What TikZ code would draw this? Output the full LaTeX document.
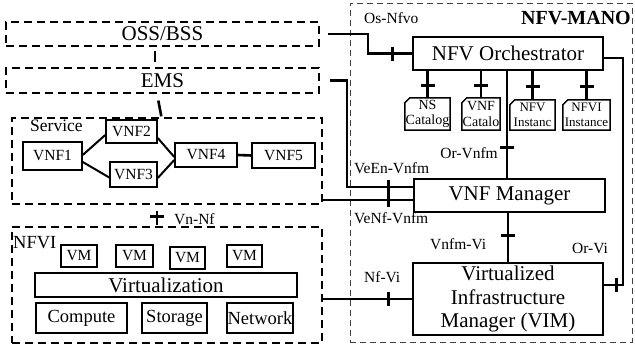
\documentclass[tikz,border=0pt]{standalone}
\usepackage{fontspec}
\setmainfont{Liberation Serif}
\newcommand\catout[1]{\draw[catline] (#1.south west) -- ([yshift=-5pt]#1.north west) -- ([xshift=5pt]#1.north west) -- (#1.north east) -- (#1.south east) -- cycle;}
\begin{document}
\begin{tikzpicture}[x=1pt,y=-1pt,
  dbox/.style={draw, dash pattern=on 8pt off 5pt, line width=1.4pt, inner sep=0pt},
  mbox/.style={draw=black!75, dash pattern=on 6pt off 4pt, line width=1pt, inner sep=0pt},
  sbox/.style={draw, fill=white, line width=1.5pt, inner sep=0pt},
  big/.style={font=\fontsize{21}{23.5}\selectfont},
  mid/.style={font=\fontsize{18.5}{20}\selectfont},
  small/.style={font=\fontsize{15.5}{17}\selectfont},
  lbl/.style={font=\fontsize{15.5}{17}\selectfont, inner sep=0pt},
  cat/.style={inner sep=0pt, align=center, font=\fontsize{14}{15.5}\selectfont},
  catline/.style={line width=1.5pt},
  conn/.style={line width=2.6pt},
  vl/.style={line width=2pt},
  tick/.style={fill, draw=none, inner sep=0pt, minimum width=3pt, minimum height=14pt, sloped}
]
\useasboundingbox (0,0) rectangle (635,348);

% left stack
\node[dbox, minimum width=313pt, minimum height=24pt, big] (oss) at (162.5,34) {OSS/BSS};
\node[dbox, minimum width=313pt, minimum height=25pt, big] (ems) at (162.5,80.5) {EMS};
\node[dbox, minimum width=310pt, minimum height=86pt] (svc) at (167,161) {};
\node[dbox, minimum width=310pt, minimum height=116pt] (nfvi) at (167,285) {};
\node[font=\fontsize{17.5}{19}\selectfont, inner sep=0pt, anchor=base west] (svclbl) at (30,131) {Service};
\node[font=\fontsize{18.5}{20}\selectfont, inner sep=0pt, anchor=base west] (nfvilbl) at (13,248) {NFVI};

% service chain
\node[sbox, small, minimum width=59pt, minimum height=28pt] (vnf1) at (52.5,156) {VNF1};
\node[sbox, small, minimum width=51pt, minimum height=23pt] (vnf2) at (131.5,131.5) {VNF2};
\node[sbox, small, minimum width=47pt, minimum height=25pt] (vnf3) at (133.5,174.5) {VNF3};
\node[sbox, small, minimum width=62pt, minimum height=24pt] (vnf4) at (206,155) {VNF4};
\node[sbox, small, minimum width=63pt, minimum height=25pt] (vnf5) at (283.5,155.5) {VNF5};
\draw[vl] ([yshift=1pt]vnf1.east) -- ([yshift=-3.5pt]vnf2.west);
\draw[vl] ([yshift=-6pt]vnf1.east) -- ([yshift=-3pt]vnf3.west);
\draw[vl] ([yshift=-6.5pt]vnf2.east) -- ([yshift=-2pt]vnf4.west);
\draw[vl] ([yshift=-3.5pt]vnf3.east) -- ([yshift=-5pt]vnf4.west);
\draw[conn] (vnf4.east) -- (vnf5.west);

% NFVI content
\node[sbox, small, minimum width=36pt, minimum height=22pt] (vm1) at (79,256) {VM};
\node[sbox, small, minimum width=37pt, minimum height=22pt] (vm2) at (134.5,256) {VM};
\node[sbox, small, minimum width=35pt, minimum height=22pt] (vm3) at (187.5,258) {VM};
\node[sbox, small, minimum width=35pt, minimum height=22pt] (vm4) at (244.5,256) {VM};
\node[sbox, big, minimum width=262pt, minimum height=24pt] (virt) at (166,285) {Virtualization};
\node[sbox, mid, minimum width=91pt, minimum height=30pt] (comp) at (81.5,318) {Compute};
\node[sbox, mid, minimum width=65pt, minimum height=30pt] (stor) at (174.5,318) {Storage};
\node[sbox, mid, minimum width=66pt, minimum height=30pt] (netw) at (260,318) {Network};

% left vertical links
\draw[conn, shorten <=4pt, shorten >=5pt] ([xshift=-7.5pt]oss.south) -- ([xshift=-7.5pt]ems.north);
\draw[conn, shorten <=7pt, shorten >=1pt] ([xshift=-5.5pt]ems.south) -- ([xshift=-5.5pt]svc.north);
\draw[conn, shorten <=6pt, shorten >=1pt] ([xshift=-10pt]svc.south) -- node[tick, pos=0.55]{} ([xshift=-10pt]nfvi.north);
\node[lbl, anchor=west] (vnnf) at (174,219) {Vn-Nf};

% MANO
\node[mbox, minimum width=282pt, minimum height=339pt] (mano) at (491,172.5) {};
\node[font=\bfseries\fontsize{20}{22}\selectfont, inner sep=0pt, anchor=east] (manolbl) at (631,18) {NFV-MANO};
\node[sbox, big, minimum width=190pt, minimum height=33pt] (orch) at (508,53.5) {NFV Orchestrator};
\node[sbox, big, minimum width=191pt, minimum height=33pt] (vnfm) at (509.5,195.5) {VNF Manager};
\node[sbox, big, align=center, minimum width=190pt, minimum height=72pt] (vim) at (508,299) {Virtualized\\Infrastructure\\Manager (VIM)};

% catalogs
\node[cat, minimum width=45pt, minimum height=32pt] (nscat) at (427.5,114) {NS\\Catalog};
\node[cat, minimum width=38pt, minimum height=32pt] (vnfcat) at (481,114) {VNF\\Catalo};
\node[cat, minimum width=45pt, minimum height=30pt, font=\fontsize{13}{15.5}\selectfont] (nfvinst) at (532.5,115) {NFV\\Instanc};
\node[cat, minimum width=47pt, minimum height=30pt, font=\fontsize{13}{15.5}\selectfont] (nfviinst) at (586.5,115) {NFVI\\Instance};
\catout{nscat}
\catout{vnfcat}
\catout{nfvinst}
\catout{nfviinst}
\draw[conn] (nscat.north |- orch.south) -- node[tick, pos=0.55]{} (nscat.north);
\draw[conn] (vnfcat.north |- orch.south) -- node[tick, pos=0.55]{} (vnfcat.north);
\draw[conn] (nfvinst.north |- orch.south) -- node[tick, pos=0.55]{} (nfvinst.north);
\draw[conn] (nfviinst.north |- orch.south) -- node[tick, pos=0.55]{} (nfviinst.north);

% reference points
\coordinate (osbend) at (368,34);
\draw[conn] ([xshift=8pt]oss.east |- osbend) -- (osbend) -- (osbend |- orch.west) -- node[tick, pos=0.56]{} (orch.west);
\node[lbl, anchor=west] (osnfvo) at (364,18) {Os-Nfvo};

\coordinate (veenbend) at (347,80.5);
\coordinate (veenend) at ([yshift=8.5pt]vnfm.west);
\draw[conn] ([xshift=10pt]ems.east) -- (veenbend) -- (veenbend |- veenend) -- node[tick, pos=0.63]{} (veenend);
\node[lbl, anchor=west] (veenlbl) at (354,168) {VeEn-Vnfm};

\coordinate (venfend) at ([yshift=-4.5pt]vnfm.west);
\draw[conn] (svc.east |- venfend) -- node[tick, pos=0.73]{} (venfend);
\node[lbl, anchor=west] (venflbl) at (354,218) {VeNf-Vnfm};

\coordinate (orvtop) at ([xshift=-1pt]orch.south);
\draw[conn] (orvtop) -- node[tick, pos=0.71]{} (orvtop |- vnfm.north);
\node[lbl, anchor=east] (orvnfmlbl) at (498,153) {Or-Vnfm};

\draw[conn] (vim.north |- vnfm.south) -- node[tick, pos=0.45]{} (vim.north);
\node[lbl, anchor=west] (vnfmvilbl) at (430,244) {Vnfm-Vi};

\draw[conn] (nfvi.east |- vim.west) -- node[tick, pos=0.74]{} (vim.west);
\node[lbl, anchor=west] (nfvilbl2) at (364,277) {Nf-Vi};

\coordinate (orvistart) at ([yshift=-4.5pt]orch.east);
\coordinate (orviend) at ([yshift=14pt]vim.east);
\coordinate (orvix) at (623,0);
\draw[conn] (orvistart) -- (orvistart -| orvix) -- (orviend -| orvix) -- node[tick, pos=0.35]{} (orviend);
\node[lbl, anchor=west] (orvilbl) at (572,248) {Or-Vi};
\end{tikzpicture}
\end{document}
